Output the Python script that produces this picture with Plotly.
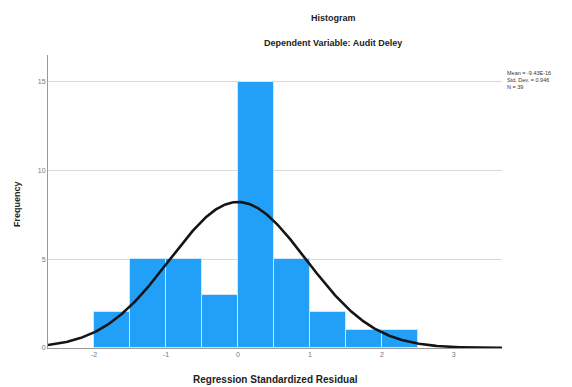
import numpy as np
import plotly.graph_objects as go

bin_left = [-2.0, -1.5, -1.0, -0.5, 0.0, 0.5, 1.0, 1.5, 2.0]
counts = [2, 5, 5, 3, 15, 5, 2, 1, 1]
bin_width = 0.5
mean_val = -9.43e-16
std_val = 0.946
n_val = 39
x_ticks = [-2, -1, 0, 1, 2, 3]
y_ticks = [0, 5, 10, 15]
x_range = [-2.64, 3.67]
y_range = [0, 16.5]

centers = [b + bin_width / 2 for b in bin_left]

xs = np.linspace(x_range[0], x_range[1], 400)
ys = n_val * bin_width / (std_val * np.sqrt(2 * np.pi)) * np.exp(-0.5 * ((xs - mean_val) / std_val) ** 2)

fig = go.Figure()
fig.add_trace(go.Bar(
    x=centers, y=counts, width=bin_width,
    marker=dict(color="#22a0f8", line=dict(color="#cfe6f7", width=1)),
    showlegend=False, hoverinfo="skip",
))
fig.add_trace(go.Scatter(
    x=xs, y=ys, mode="lines",
    line=dict(color="#151515", width=2.6),
    showlegend=False, hoverinfo="skip",
))

OFF = 8  # default page body margin
W, H = 572 - OFF, 387 - OFF
# plot area in page pixels: x 48..502, y 55..348
ml, mt = 48 - OFF, 55 - OFF
mr = W - (502 - OFF)
mb = H - (348 - OFF)

fig.update_layout(
    width=W, height=H,
    margin=dict(l=ml, r=mr, t=mt, b=mb, autoexpand=False),
    paper_bgcolor="white", plot_bgcolor="white",
    font=dict(family="Liberation Sans, Arial, sans-serif", color="#222"),
    bargap=0,
    xaxis=dict(
        range=x_range, tickvals=x_ticks, ticktext=[str(v) for v in x_ticks],
        showgrid=False, zeroline=False, showline=True, linecolor="#9a9a9a", linewidth=1,
        ticks="", tickfont=dict(size=7, color="#777"), automargin=False,
    ),
    yaxis=dict(
        range=y_range, tickvals=y_ticks, ticktext=[str(v) for v in y_ticks],
        showgrid=True, gridcolor="#d8d8d8", gridwidth=1, zeroline=False,
        showline=True, linecolor="#9a9a9a", linewidth=1,
        ticks="", tickfont=dict(size=7, color="#777"), automargin=False,
    ),
)

def px_x(p):
    return (p - OFF - ml) / (W - ml - mr)

def px_y(p):
    return 1 - (p - OFF - mt) / (H - mt - mb)

fig.add_annotation(x=px_x(333), y=px_y(18), xref="paper", yref="paper",
                   text="<b>Histogram</b>", showarrow=False,
                   font=dict(size=9, color="#222"), xanchor="center", yanchor="middle")
fig.add_annotation(x=px_x(333), y=px_y(43), xref="paper", yref="paper",
                   text="<b>Dependent Variable: Audit Deley</b>", showarrow=False,
                   font=dict(size=9, color="#222"), xanchor="center", yanchor="middle")
fig.add_annotation(x=px_x(505), y=px_y(68), xref="paper", yref="paper",
                   text=f"Mean = {mean_val:.2E}<br>Std. Dev. = {std_val:.3f}<br>N = {n_val}",
                   showarrow=False, align="left",
                   font=dict(size=5.5, color="#333"), xanchor="left", yanchor="top")
fig.add_annotation(x=px_x(275), y=px_y(379), xref="paper", yref="paper",
                   text="<b>Regression Standardized Residual</b>", showarrow=False,
                   font=dict(size=10, color="#222"), xanchor="center", yanchor="middle")
fig.add_annotation(x=px_x(17), y=px_y(204), xref="paper", yref="paper",
                   text="<b>Frequency</b>", showarrow=False, textangle=-90,
                   font=dict(size=9, color="#222"), xanchor="center", yanchor="middle")

fig.write_html("out.html")
